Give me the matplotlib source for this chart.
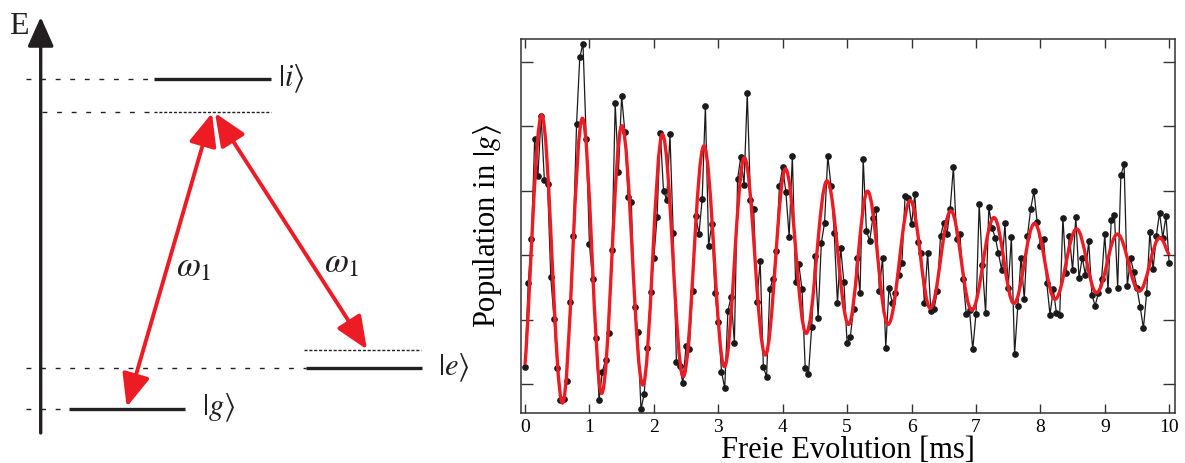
import numpy as np
import matplotlib
matplotlib.use("Agg")
import matplotlib.pyplot as plt
from matplotlib.path import Path
from matplotlib.patches import PathPatch, FancyArrowPatch

plt.rcParams["font.family"] = ["Liberation Serif", "DejaVu Serif"]
plt.rcParams["mathtext.fontset"] = "stix"

# measured population in |g>, one point every 0.05 ms (0 ... 10 ms)
t_step = 0.05
population = [
    0.054, 0.312, 0.449, 0.760, 0.645, 0.831, 0.633, 0.620, 0.331, 0.203,
    0.049, -0.050, -0.048, 0.010, 0.255, 0.459, 0.805, 1.013, 1.056, 0.760,
    0.433, 0.325, 0.142, -0.050, 0.038, 0.074, 0.157, 0.416, 0.870, 0.658,
    0.893, 0.782, 0.579, 0.565, 0.238, 0.162, -0.079, -0.031, 0.113, 0.286,
    0.392, 0.519, 0.780, 0.599, 0.571, 0.774, 0.469, 0.069, 0.056, 0.002,
    0.119, 0.107, 0.288, 0.521, 0.465, 0.573, 0.863, 0.429, 0.495, 0.281,
    0.191, 0.038, -0.013, 0.227, 0.271, 0.126, 0.636, 0.705, 0.617, 0.903,
    0.571, 0.542, 0.255, 0.382, 0.052, 0.023, 0.294, 0.325, 0.413, 0.615,
    0.672, 0.594, 0.457, 0.708, 0.315, 0.371, 0.294, 0.049, 0.030, 0.176,
    0.397, 0.206, 0.438, 0.500, 0.708, 0.615, 0.469, 0.252, 0.423, 0.315,
    0.126, 0.147, 0.233, 0.392, 0.281, 0.697, 0.475, 0.443, 0.516, 0.543,
    0.289, 0.392, 0.111, 0.299, 0.252, 0.281, 0.338, 0.374, 0.583, 0.576,
    0.495, 0.588, 0.441, 0.405, 0.252, 0.407, 0.226, 0.233, 0.288, 0.459,
    0.500, 0.465, 0.543, 0.674, 0.449, 0.464, 0.325, 0.216, 0.229, 0.107,
    0.216, 0.557, 0.369, 0.219, 0.548, 0.483, 0.454, 0.405, 0.353, 0.498,
    0.299, 0.455, 0.093, 0.243, 0.392, 0.263, 0.460, 0.543, 0.598, 0.503,
    0.429, 0.449, 0.312, 0.214, 0.295, 0.219, 0.214, 0.516, 0.343, 0.460,
    0.353, 0.517, 0.328, 0.392, 0.338, 0.444, 0.276, 0.243, 0.281, 0.325,
    0.464, 0.291, 0.509, 0.524, 0.299, 0.648, 0.681, 0.305, 0.392, 0.346,
    0.297, 0.238, 0.173, 0.283, 0.472, 0.356, 0.459, 0.531, 0.454, 0.521,
    0.374,
]

# fitted curve: start, maxima/minima and end point
fit_t = [0.0, 0.258, 0.582, 0.891, 1.190, 1.504, 1.829, 2.133, 2.457, 2.777,
         3.096, 3.405, 3.730, 4.044, 4.364, 4.688, 5.023, 5.317, 5.636, 5.981,
         6.291, 6.610, 6.935, 7.280, 7.589, 7.909, 8.228, 8.563, 8.872, 9.196,
         9.536, 9.856, 10.0]
fit_v = [0.060, 0.834, -0.059, 0.824, -0.029, 0.801, -0.003, 0.774, 0.023, 0.738,
         0.054, 0.702, 0.090, 0.667, 0.157, 0.630, 0.185, 0.598, 0.185, 0.569,
         0.235, 0.537, 0.229, 0.516, 0.250, 0.498, 0.263, 0.481, 0.283, 0.465,
         0.288, 0.454, 0.400]

x_ticks = list(range(11))
y_ticks = [0.0, 0.2, 0.4, 0.6, 0.8, 1.0]

# level scheme, left panel in pixel units (y downwards)
level_names = [r"$|i\rangle$", r"$|e\rangle$", r"$|g\rangle$"]
level_y = [79.3, 368.3, 409.0]
level_x0 = [154.0, 306.0, 69.3]
level_x1 = [270.7, 421.7, 185.0]
label_x = [291.0, 454.0, 219.0]
virtual_y = [111.7, 350.0]
virtual_x0 = [154.0, 304.0]
virtual_x1 = [270.7, 420.7]

RED = "#ED1C24"
INK = "#231F20"

fig = plt.figure(figsize=(11.85, 4.63), dpi=100)

# ---------------- left: level scheme ----------------
axl = fig.add_axes([0, 0, 470 / 1185, 1])
axl.set_xlim(0, 470)
axl.set_ylim(463, 0)
axl.axis("off")

# energy axis
axl.add_patch(FancyArrowPatch((40.7, 433), (40.7, 17), arrowstyle="-|>,head_length=1.8,head_width=0.8",
                              mutation_scale=10, lw=2.4, color=INK, shrinkA=0, shrinkB=0))
axl.text(19, 27, "E", fontsize=23, ha="center", va="center", color=INK)

for name, y, x0, x1, lx in zip(level_names, level_y, level_x0, level_x1, label_x):
    axl.plot([x0, x1], [y, y], color=INK, lw=2.4, solid_capstyle="butt")
    axl.plot([26, x0], [y, y], color=INK, lw=1.0, dashes=(3.5, 7))
    axl.text(lx, y - 1, name, fontsize=22, ha="center", va="center", color=INK)

for y, x0, x1 in zip(virtual_y, virtual_x0, virtual_x1):
    axl.plot([x0, x1], [y, y], color=INK, lw=1.0, dashes=(2.2, 1.3))
axl.plot([41.7, 154], [virtual_y[0]] * 2, color=INK, lw=1.0, dashes=(3.5, 7))

# two-photon arrows
arrow_style = "<|-|>,head_length=2.0,head_width=0.85"
axl.add_patch(FancyArrowPatch((126.7, 407), (212, 113), arrowstyle=arrow_style, mutation_scale=10,
                              lw=2.8, color=RED, shrinkA=0, shrinkB=0))
axl.add_patch(FancyArrowPatch((215, 113), (367, 349.5), arrowstyle=arrow_style, mutation_scale=10,
                              lw=2.8, color=RED, shrinkA=0, shrinkB=0))
axl.text(194, 268, r"$\omega_1$", fontsize=25, ha="center", va="center", color=INK)
axl.text(342, 264, r"$\omega_1$", fontsize=25, ha="center", va="center", color=INK)

# ---------------- right: oscillation of the population ----------------
ax = fig.add_axes([520.7 / 1185, (463 - 413) / 463, (1175 - 520.7) / 1185, (413 - 39) / 463])
t = np.arange(len(population)) * t_step
ax.plot(t, population, "-o", color="#1A1A1A", lw=0.9, ms=3.8, zorder=2)


def fit_path(ts, vs):
    verts = [(ts[0], vs[0])]
    codes = [Path.MOVETO]
    n = len(ts)
    for i in range(n - 1):
        t0, t1, v0, v1 = ts[i], ts[i + 1], vs[i], vs[i + 1]
        dt = t1 - t0
        c1 = (t0 + 0.3 * dt, v0 + 0.25 * (v1 - v0)) if i == 0 else (t0 + 0.364 * dt, v0)
        c2 = (t1 - 0.3 * dt, v1 + 0.25 * (v0 - v1)) if i == n - 2 else (t1 - 0.364 * dt, v1)
        verts += [c1, c2, (t1, v1)]
        codes += [Path.CURVE4] * 3
    return Path(verts, codes)


ax.add_patch(PathPatch(fit_path(fit_t, fit_v), fill=False, ec=RED, lw=2.4, zorder=3))

ax.set_xlim(-0.067, 10.09)
ax.set_ylim(-0.09, 1.07)
ax.set_xticks(x_ticks)
ax.set_yticks(y_ticks)
ax.tick_params(axis="both", direction="in", top=True, right=True, width=1.0,
               labelsize=14, labelleft=False, pad=4, colors="#333333", labelcolor="black")
ax.tick_params(axis="x", length=6.5)
ax.tick_params(axis="y", length=8.5)
for sp in ax.spines.values():
    sp.set_linewidth(1.1)
    sp.set_color("#333333")

ax.set_xlabel("Freie Evolution [ms]", fontsize=22, labelpad=0)
ax.set_ylabel(r"Population in $|g\rangle$", fontsize=22, labelpad=12)

fig.savefig("out.png", dpi=100)
